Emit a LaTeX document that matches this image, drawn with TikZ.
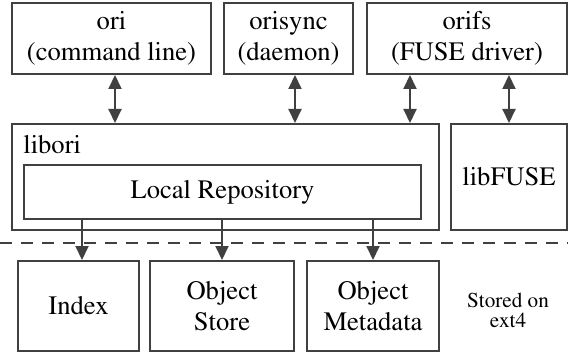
\documentclass[tikz,border=0pt]{standalone}
\usepackage[T1]{fontenc}
\usepackage{mathptmx}
\usetikzlibrary{arrows.meta}

\begin{document}
\begin{tikzpicture}[x=1pt,y=1pt,
    box/.style={draw=black!75, line width=1pt, inner sep=0pt, align=center,
      font=\fontsize{13.3}{15.5}\selectfont},
    arr/.style={draw=black!75, line width=1pt, -{Triangle[length=7pt,width=6.5pt]}},
    biarr/.style={arr, {Triangle[length=7pt,width=6.5pt]}-{Triangle[length=7pt,width=6.5pt]}}]
  \useasboundingbox (0,0) rectangle (284,177);
  % programs
  \node[box, minimum width=99.5pt, minimum height=35.5pt] (ori) at (55.75,157.75) {ori\\(command line)};
  \node[box, minimum width=64.5pt, minimum height=35.5pt] (orisync) at (144.25,157.75) {orisync\\(daemon)};
  \node[box, minimum width=100pt, minimum height=35.5pt] (orifs) at (233.5,157.75) {orifs\\(FUSE driver)};
  % libraries
  \node[box, minimum width=213.5pt, minimum height=53pt] (libori) at (112.75,88.5) {};
  \node[font=\fontsize{13.3}{15.5}\selectfont, anchor=base west, inner sep=0pt] (liboritext)
    at ([xshift=6pt,yshift=-15.5pt]libori.north west) {libori};
  \node[box, minimum width=198.5pt, minimum height=27pt] (repo) at (111.25,81) {Local Repository};
  \node[box, minimum width=58pt, minimum height=53pt] (libfuse) at (254.5,88.5) {libFUSE};
  % storage
  \draw[black!75, line width=1pt, dash pattern=on 6pt off 4.5pt] (0,55.5) -- (284,55.5);
  \node[box, minimum width=60.5pt, minimum height=45pt] (index) at (39.25,24) {Index};
  \node[box, minimum width=72pt, minimum height=45pt] (store) at (111,24) {Object\\Store};
  \node[box, minimum width=66pt, minimum height=45pt] (meta) at (186.5,24) {Object\\Metadata};
  \node[align=center, inner sep=0pt, font=\fontsize{10.6}{10}\selectfont] (ext) at (254,22) {Stored on\\ext4};
  % arrows
  \draw[biarr] ([xshift=1.75pt]ori.south) -- ([xshift=1.75pt]ori.south |- libori.north);
  \draw[biarr] ([xshift=3.25pt]orisync.south) -- ([xshift=3.25pt]orisync.south |- libori.north);
  \draw[biarr] ([xshift=-28.5pt]orifs.south) -- ([xshift=-28.5pt]orifs.south |- libori.north);
  \draw[biarr] (orifs.south -| libfuse.north) -- (libfuse.north);
  \draw[arr] ([xshift=1.75pt]repo.south -| index.north) -- ([xshift=1.75pt]index.north);
  \draw[arr] (repo.south -| store.north) -- (store.north);
  \draw[arr] (repo.south -| meta.north) -- (meta.north);
\end{tikzpicture}
\end{document}
